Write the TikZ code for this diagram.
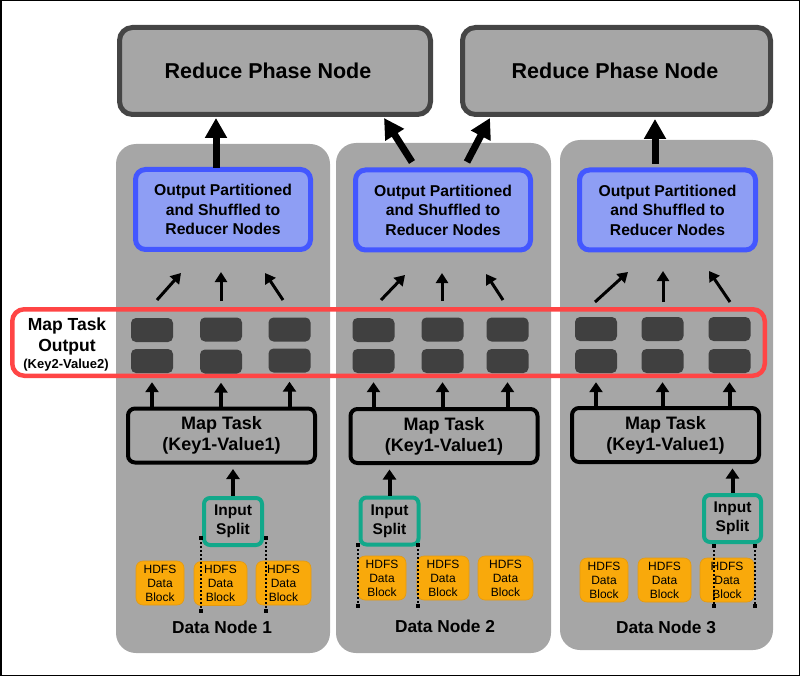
\documentclass[tikz,border=0pt]{standalone}
\usepackage{fontspec}
\setmainfont{Liberation Sans}
\usetikzlibrary{arrows.meta}
\definecolor{colgray}{HTML}{A6A6A6}
\definecolor{rnborder}{HTML}{454545}
\definecolor{kvdark}{HTML}{404040}
\definecolor{bluefill}{HTML}{8E9EF4}
\definecolor{bluebord}{HTML}{4357FF}
\definecolor{redc}{HTML}{FF4545}
\definecolor{tealc}{HTML}{12A88A}
\definecolor{orangec}{HTML}{F9A90B}
\definecolor{orangeb}{HTML}{E39A12}
\begin{document}
\begin{tikzpicture}[x=1pt,y=-1pt,
  colbox/.style={fill=colgray, rounded corners=20pt, inner sep=0pt},
  rnbox/.style={draw=rnborder, line width=5pt, fill=colgray, rounded corners=13pt, inner sep=0pt,
     minimum height=87pt},
  rntext/.style={inner sep=0pt, font=\fontsize{21.5}{25}\selectfont\bfseries},
  bluebox/.style={draw=bluebord, line width=5pt, fill=bluefill, rounded corners=10pt, inner sep=0pt,
     minimum width=175pt, minimum height=80pt, align=center, font=\fontsize{15.7}{19.5}\selectfont\bfseries},
  redbox/.style={draw=redc, line width=4.5pt, rounded corners=12pt, inner sep=0pt},
  kvbox/.style={fill=kvdark, rounded corners=5pt, inner sep=0pt, minimum width=42pt, minimum height=24pt},
  mapbox/.style={draw=black, line width=4pt, fill=colgray, rounded corners=7pt, inner sep=0pt,
     minimum width=187pt, minimum height=54pt, align=center, font=\fontsize{18}{21}\selectfont\bfseries},
  splitbox/.style={draw=tealc, line width=4pt, fill=colgray, rounded corners=6pt, inner sep=0pt,
     minimum width=58pt, minimum height=47pt, align=center, font=\fontsize{15.5}{19}\selectfont\bfseries},
  hdfsbox/.style={fill=orangec, draw=orangeb, line width=0.6pt, rounded corners=7pt, inner sep=0pt,
     minimum height=44pt, align=center, font=\fontsize{12}{14}\selectfont},
  dnlabel/.style={font=\fontsize{17.3}{20}\selectfont\bfseries, inner sep=0pt},
  mtolabel/.style={font=\fontsize{17.5}{20}\selectfont\bfseries, inner sep=0pt},
  bigarr/.style={line width=7pt, -{Triangle[length=20pt,width=21pt]}},
  thinarr/.style={line width=3pt, -{Triangle[length=10pt,width=12pt]}},
  midarr/.style={line width=4pt, -{Triangle[length=10pt,width=13pt]}},
  dotline/.style={line width=2pt, dash pattern=on 2pt off 2pt},
  endsq/.style={fill=black}
]
\useasboundingbox (0,0) rectangle (800,676);
\draw[line width=1.5pt] (0.75,0.75) rectangle (799.25,675.25);

% columns
\node[colbox, minimum width=214pt, minimum height=509pt] (col1) at (223,398.5) {};
\node[colbox, minimum width=215pt, minimum height=510pt] (col2) at (443.5,398) {};
\node[colbox, minimum width=213pt, minimum height=510pt] (col3) at (666.5,395) {};

% reduce nodes
\node[rnbox, minimum width=311pt] (rn1) at (275,71) {};
\node[rntext] (rn1t) at (268,71) {Reduce Phase Node};
\node[rnbox, minimum width=308pt] (rn2) at (616.5,71) {};
\node[rntext] (rn2t) at (615,71) {Reduce Phase Node};

% red map task output rectangle
\node[redbox, minimum width=752.5pt, minimum height=66.5pt] (red) at (388.5,342.5) {};
\node[mtolabel] (mto1) at (67,326) {Map Task};
\node[mtolabel] (mto2) at (67,347) {Output};
\node[inner sep=0pt, font=\fontsize{13}{15}\selectfont\bfseries] (mto3) at (66,365) {(Key2-Value2)};

% blue boxes
\node[bluebox] (blue1) at (223,209.5) {Output Partitioned\\and Shuffled to\\Reducer Nodes};
\node[bluebox] (blue2) at (443,210) {Output Partitioned\\and Shuffled to\\Reducer Nodes};
\node[bluebox, minimum width=176pt] (blue3) at (667.5,210) {Output Partitioned\\and Shuffled to\\Reducer Nodes};

% kv boxes
\node[kvbox] (kv1a) at (152,330) {};
\node[kvbox] (kv1b) at (221,329.5) {};
\node[kvbox] (kv1c) at (289.5,329.5) {};
\node[kvbox] (kv1d) at (152,361) {};
\node[kvbox] (kv1e) at (221,361.5) {};
\node[kvbox] (kv1f) at (289.5,360.5) {};
\node[kvbox] (kv2a) at (373.5,330) {};
\node[kvbox] (kv2b) at (442.5,329.5) {};
\node[kvbox] (kv2c) at (507.5,329.5) {};
\node[kvbox] (kv2d) at (373.5,361) {};
\node[kvbox] (kv2e) at (442.5,361) {};
\node[kvbox] (kv2f) at (507.5,361) {};
\node[kvbox] (kv3a) at (596,329) {};
\node[kvbox] (kv3b) at (662.5,329) {};
\node[kvbox] (kv3c) at (729.5,329) {};
\node[kvbox] (kv3d) at (596,361) {};
\node[kvbox] (kv3e) at (662.5,361) {};
\node[kvbox] (kv3f) at (729.5,361) {};

% map tasks
\node[mapbox] (map1) at (221.5,435.5) {Map Task\\(Key1-Value1)};
\node[mapbox] (map2) at (444,436) {Map Task\\(Key1-Value1)};
\node[mapbox] (map3) at (665.5,435) {Map Task\\(Key1-Value1)};

% input splits
\node[splitbox] (sp1) at (233,521.5) {Input\\Split};
\node[splitbox] (sp2) at (389.5,521) {Input\\Split};
\node[splitbox, minimum width=57pt] (sp3) at (732.5,518.5) {Input\\Split};

% hdfs blocks
\node[hdfsbox, minimum width=48pt] (h1a) at (160,583) {HDFS\\Data\\Block};
\node[hdfsbox, minimum width=53pt] (h1b) at (220.5,583.5) {HDFS\\Data\\Block};
\node[hdfsbox, minimum width=55pt] (h1c) at (283.5,583) {HDFS\\Data\\Block};
\node[hdfsbox, minimum width=48pt] (h2a) at (382,578) {HDFS\\Data\\Block};
\node[hdfsbox, minimum width=52pt] (h2b) at (443,578) {HDFS\\Data\\Block};
\node[hdfsbox, minimum width=55pt] (h2c) at (505.5,578) {HDFS\\Data\\Block};
\node[hdfsbox, minimum width=48pt] (h3a) at (604,580) {HDFS\\Data\\Block};
\node[hdfsbox, minimum width=53pt] (h3b) at (664.5,580) {HDFS\\Data\\Block};
\node[hdfsbox, minimum width=54pt] (h3c) at (727,580) {HDFS\\Data\\Block};

% data node labels
\node[dnlabel] (dn1) at (222,627) {Data Node 1};
\node[dnlabel] (dn2) at (445,626) {Data Node 2};
\node[dnlabel] (dn3) at (666,627) {Data Node 3};

% dotted split lines
\foreach \n/\xa/\xb/\ya/\yb in {1/201/266/538/611, 2/358/418/545/606, 3/714/755/546/606}{
  \coordinate (dl\n a) at (\xa,\ya);
  \coordinate (dl\n b) at (\xa,\yb);
  \coordinate (dr\n a) at (\xb,\ya);
  \coordinate (dr\n b) at (\xb,\yb);
  \draw[dotline] (dl\n a) -- (dl\n b);
  \draw[dotline] (dr\n a) -- (dr\n b);
  \foreach \p in {dl\n a, dl\n b, dr\n a, dr\n b}{
    \fill[endsq] (\p) +(-1.6,-1.6) rectangle +(1.6,1.6);
  }
}

% split -> map arrows
\draw[midarr] (sp1.north) -- ([yshift=-4.5pt]sp1.north |- map1.south);
\draw[midarr] (sp2.north) -- ([yshift=-4.5pt]sp2.north |- map2.south);
\draw[midarr] (sp3.north) -- ([yshift=-4.5pt]sp3.north |- map3.south);

% map -> kv arrows
\foreach \c in {1,2,3}{
  \foreach \k in {d,e,f}{
    \draw[midarr] (map\c.north -| kv\c\k) -- ([yshift=-9pt]kv\c\k.south);
  }
}

% kv -> blue arrows
\coordinate (t1a) at (157,300); \coordinate (e1a) at (181,273);
\coordinate (t1b) at (221,301); \coordinate (e1b) at (221,272);
\coordinate (t1c) at (283,300); \coordinate (e1c) at (265,273);
\coordinate (t2a) at (381,300); \coordinate (e2a) at (405,275);
\coordinate (t2b) at (442,301); \coordinate (e2b) at (442,273);
\coordinate (t2c) at (503,300); \coordinate (e2c) at (486,274);
\coordinate (t3a) at (595,302); \coordinate (e3a) at (628,272);
\coordinate (t3b) at (663,302); \coordinate (e3b) at (663,271);
\coordinate (t3c) at (730,302); \coordinate (e3c) at (709,271);
\foreach \c in {1,2,3}{\foreach \k in {a,b,c}{\draw[thinarr] (t\c\k) -- (e\c\k);}}

% blue -> reduce arrows
\coordinate (bs1) at (216,168); \coordinate (be1) at (216,118);
\coordinate (bs2) at (412,162); \coordinate (be2) at (384,118);
\coordinate (bs3) at (467,162); \coordinate (be3) at (490,118);
\coordinate (bs4) at (655,164); \coordinate (be4) at (655,119);
\foreach \i in {1,2,3,4}{\draw[bigarr] (bs\i) -- (be\i);}
\end{tikzpicture}
\end{document}
